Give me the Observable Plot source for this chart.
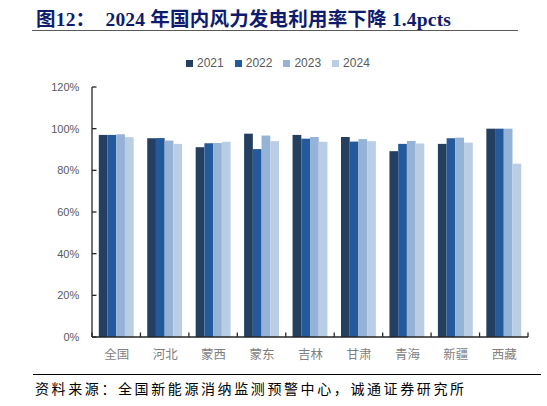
<!DOCTYPE html>
<html>
<head>
<meta charset="utf-8">
<script src="https://cdn.jsdelivr.net/npm/d3@7"></script>
<script src="https://cdn.jsdelivr.net/npm/@observablehq/plot@0.6"></script>
<style>
  html, body { margin: 0; padding: 0; background: #fff; }
  #page { position: relative; width: 547px; height: 406px; overflow: hidden; }
  #title { position: absolute; left: 36px; top: 3px; white-space: pre; font-weight: bold; font-size: 19.5px;
           font-family: "Liberation Serif", "Noto Sans CJK SC", serif; color: #0f1c6e; letter-spacing: 0.2px; }
  #rule1 { position: absolute; left: 32px; top: 30px; width: 486px; height: 0; border-top: 1.5px solid #595959; }
  #legend { position: absolute; left: 186px; top: 56px; display: flex; gap: 11px;
            font-family: "Liberation Sans", Arial, sans-serif; font-size: 12px; color: #595959; }
  #legend .item { display: flex; align-items: center; }
  #legend .sw { width: 7px; height: 7px; margin-right: 4px; }
  #chart { position: absolute; left: 0; top: 70px; }
  #rule2 { position: absolute; left: 33px; top: 374px; width: 508px; height: 0; border-top: 1.5px solid #000; }
  #source { position: absolute; left: 35px; top: 378px; font-size: 14px; letter-spacing: 2.6px;
            font-family: "Noto Sans CJK SC", sans-serif; color: #000; white-space: pre; }
</style>
</head>
<body>
<div id="page">
  <div id="title">图12：  2024 年国内风力发电利用率下降 1.4pcts</div>
  <div id="rule1"></div>
  <div id="legend"></div>
  <div id="chart"></div>
  <div id="rule2"></div>
  <div id="source">资料来源：全国新能源消纳监测预警中心，诚通证券研究所</div>
</div>
<script>
const categories = ["全国","河北","蒙西","蒙东","吉林","甘肃","青海","新疆","西藏"];
const years = ["2021","2022","2023","2024"];
const v2021 = [97.0, 95.4, 91.1, 97.6, 97.0, 96.0, 89.2, 92.7, 100];
const v2022 = [97.0, 95.5, 93.0, 90.2, 95.2, 93.8, 92.7, 95.4, 100];
const v2023 = [97.3, 94.3, 93.1, 96.7, 96.0, 95.0, 94.1, 95.7, 100];
const v2024 = [95.9, 92.7, 93.7, 94.0, 93.7, 94.0, 92.9, 93.3, 83.2];
const yTicks = [0, 20, 40, 60, 80, 100, 120];
const colors = ["#243f60", "#245a9b", "#95b3d7", "#b9cde5"];

const series = [v2021, v2022, v2023, v2024];
const data = [];
categories.forEach((c, i) => years.forEach((yr, j) => data.push({cat: c, year: yr, value: series[j][i]})));

// legend
const legend = document.getElementById("legend");
years.forEach((yr, j) => {
  const it = document.createElement("div"); it.className = "item";
  const sw = document.createElement("div"); sw.className = "sw"; sw.style.background = colors[j];
  const tx = document.createElement("span"); tx.textContent = yr;
  it.appendChild(sw); it.appendChild(tx); legend.appendChild(it);
});

const W = 547, H = 300, mL = 92, mR = 19, mT = 17, mB = 33;
const chart = Plot.plot({
  width: W, height: H,
  marginLeft: mL, marginRight: mR, marginTop: mT, marginBottom: mB,
  style: {fontFamily: "Liberation Sans, Arial, sans-serif", background: "#fff"},
  fx: {domain: categories, paddingInner: 0.28, paddingOuter: 0.14, round: false, label: null, axis: null},
  x: {domain: years, padding: 0, round: false, axis: null},
  y: {domain: [0, 120], ticks: yTicks, label: null, axis: null},
  color: {domain: years, range: colors},
  marks: [
    Plot.barY(data, {fx: "cat", x: "year", y: "value", fill: "year"}),
    Plot.axisY({ticks: yTicks, tickSize: 0, tickPadding: 20, tickFormat: d => d + "%",
                fontSize: 11, fill: "#595959", label: null}),
    Plot.axisFx({anchor: "bottom", tickSize: 0, tickPadding: 13, fontSize: 12.5, fill: "#7f7f7f", label: null,
                 fontFamily: "Noto Sans CJK SC, sans-serif"})
  ]
});
document.getElementById("chart").appendChild(chart);

// axis lines and ticks drawn from the library's scales
const svg = d3.select(chart);
const yS = chart.scale("y");
const y0 = yS.apply(0), yTop = yS.apply(120);
const left = mL, right = W - mR;
const g = svg.append("g").attr("stroke", "#262626").attr("stroke-width", 1.3);
g.append("line").attr("x1", left).attr("x2", left).attr("y1", y0).attr("y2", yTop);
yTicks.forEach(t => g.append("line").attr("x1", left).attr("x2", left + 4.5)
  .attr("y1", yS.apply(t)).attr("y2", yS.apply(t)));
g.append("line").attr("x1", left).attr("x2", right).attr("y1", y0).attr("y2", y0);
const step = (right - left) / categories.length;
for (let i = 0; i <= categories.length; i++) {
  const bx = left + i * step;
  g.append("line").attr("x1", bx).attr("x2", bx).attr("y1", y0).attr("y2", y0 - 4.5);
}
</script>
</body>
</html>
